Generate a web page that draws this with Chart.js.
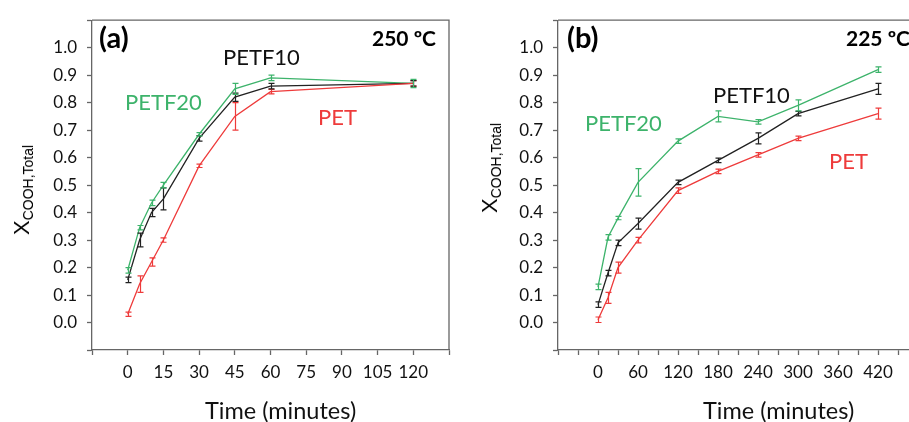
<!DOCTYPE html>
<html>
<head>
<meta charset="utf-8">
<script src="https://cdn.jsdelivr.net/npm/chart.js@4.4.1/dist/chart.umd.min.js"></script>
<style>
  html, body { margin: 0; padding: 0; background: #fff; overflow: hidden; }
  body { width: 909px; height: 422px; position: relative; font-family: Lato, sans-serif; }
  .panel { position: absolute; top: 0; }
  .lbl { position: absolute; white-space: nowrap; line-height: 1; font-size: 22px; }
  .bold { font-weight: bold; color: #000; }
  .xtitle { position: absolute; top: 399px; white-space: nowrap; line-height: 1; font-size: 23.5px; color: #111; }
  .ytitle { position: absolute; white-space: nowrap; font-family: "Liberation Sans", Arial, sans-serif;
            font-size: 22px; color: #000; transform: translate(-50%, -50%) rotate(-90deg); line-height: 1; }
  .ytitle sub { font-size: 14px; vertical-align: -4px; }
</style>
</head>
<body>
<div class="panel" style="left:0px;width:460px;height:422px"><canvas id="chartA" width="460" height="422"></canvas></div>
<div class="panel" style="left:466px;width:470px;height:422px"><canvas id="chartB" width="470" height="422"></canvas></div>

<div class="ytitle" style="left:23px;top:190px">X<sub>COOH,Total</sub></div>
<div class="ytitle" style="left:491px;top:168px">X<sub>COOH,Total</sub></div>
<div class="xtitle" style="left:205px">Time (minutes)</div>
<div class="xtitle" style="left:703px">Time (minutes)</div>

<div class="lbl bold" style="left:99px;top:22px;font-size:29px">(a)</div>
<div class="lbl bold" style="left:372px;top:27px;font-size:21px">250 ºC</div>
<div class="lbl" style="left:223px;top:46px;color:#111">PETF10</div>
<div class="lbl" style="left:125px;top:91px;color:#3db36b">PETF20</div>
<div class="lbl" style="left:318px;top:106px;color:#ee3b3b">PET</div>

<div class="lbl bold" style="left:567px;top:22px;font-size:29px">(b)</div>
<div class="lbl bold" style="left:846px;top:27px;font-size:21px">225 ºC</div>
<div class="lbl" style="left:713px;top:84px;color:#111">PETF10</div>
<div class="lbl" style="left:585px;top:112px;color:#3db36b">PETF20</div>
<div class="lbl" style="left:829px;top:150px;color:#ee3b3b">PET</div>

<script>
// panel (a) - 250 C
const timeA = [0, 5, 10, 15, 30, 45, 60, 120];
const petA = [0.03, 0.14, 0.22, 0.30, 0.57, 0.75, 0.84, 0.87];
const petErrA = [0.008, 0.03, 0.015, 0.008, 0.006, 0.05, 0.008, 0.01];
const petf10A = [0.155, 0.30, 0.40, 0.45, 0.67, 0.82, 0.86, 0.87];
const petf10ErrA = [0.01, 0.025, 0.015, 0.04, 0.01, 0.015, 0.01, 0.01];
const petf20A = [0.19, 0.345, 0.435, 0.50, 0.685, 0.85, 0.89, 0.87];
const petf20ErrA = [0.01, 0.008, 0.01, 0.01, 0.006, 0.02, 0.01, 0.015];

// panel (b) - 225 C
const timeB = [0, 15, 30, 60, 120, 180, 240, 300, 420];
const petB = [0.01, 0.09, 0.20, 0.30, 0.48, 0.55, 0.61, 0.67, 0.76];
const petErrB = [0.01, 0.02, 0.02, 0.01, 0.01, 0.008, 0.008, 0.008, 0.02];
const petf10B = [0.065, 0.18, 0.29, 0.36, 0.51, 0.59, 0.67, 0.76, 0.85];
const petf10ErrB = [0.01, 0.01, 0.01, 0.02, 0.008, 0.008, 0.02, 0.008, 0.02];
const petf20B = [0.13, 0.31, 0.38, 0.51, 0.66, 0.75, 0.73, 0.79, 0.92];
const petf20ErrB = [0.01, 0.01, 0.006, 0.05, 0.008, 0.02, 0.008, 0.02, 0.01];

const GREEN = '#3db36b', RED = '#ee3b3b', BLACK = '#222';
const AXIS = '#666';

function pts(xs, ys) { return xs.map((x, i) => ({ x: x, y: ys[i] })); }

function series(xs, ys, errs, color) {
    return { data: pts(xs, ys), err: errs, borderColor: color, backgroundColor: color,
             borderWidth: 1.3, pointRadius: 0, tension: 0, fill: false };
}

// error bars drawn through the chart scales
const errorBars = {
    id: 'errorBars',
    afterDatasetsDraw(chart) {
        const ctx = chart.ctx, xs = chart.scales.x, ys = chart.scales.y;
        chart.data.datasets.forEach(ds => {
            ctx.save();
            ctx.strokeStyle = ds.borderColor;
            ctx.lineWidth = 1.2;
            ds.data.forEach((p, i) => {
                const e = ds.err[i];
                const px = Math.round(xs.getPixelForValue(p.x)) + 0.5;
                const y1 = ys.getPixelForValue(p.y - e), y2 = ys.getPixelForValue(p.y + e);
                ctx.beginPath();
                ctx.moveTo(px, y1); ctx.lineTo(px, y2);
                ctx.moveTo(px - 3, y1); ctx.lineTo(px + 3, y1);
                ctx.moveTo(px - 3, y2); ctx.lineTo(px + 3, y2);
                ctx.stroke();
            });
            ctx.restore();
        });
    }
};

// top (and right) edges of the plot box; left/bottom come from the axes
const frame = {
    id: 'frame',
    afterDraw(chart, args, opts) {
        const a = chart.chartArea, ctx = chart.ctx;
        ctx.save();
        ctx.strokeStyle = AXIS;
        ctx.lineWidth = 1.3;
        ctx.beginPath();
        ctx.moveTo(a.left, a.top); ctx.lineTo(a.right, a.top);
        if (opts.right) ctx.lineTo(a.right, a.bottom);
        ctx.stroke();
        ctx.restore();
    }
};

function makeChart(id, datasets, xMin, xMax, xStep, xLabel, padRight, rightEdge) {
    return new Chart(document.getElementById(id), {
        type: 'line',
        data: { datasets: datasets },
        options: {
            responsive: false,
            animation: false,
            devicePixelRatio: 1,
            layout: { padding: { left: 0, top: 11, right: padRight, bottom: 0 } },
            plugins: { legend: { display: false }, tooltip: { enabled: false }, frame: { right: rightEdge } },
            scales: {
                x: {
                    type: 'linear', min: xMin, max: xMax,
                    afterFit: s => { s.height = 72; },
                    grid: { drawOnChartArea: false, tickLength: 5, color: AXIS, tickWidth: 1.3 },
                    border: { color: AXIS, width: 1.3 },
                    ticks: { stepSize: xStep, autoSkip: false, maxRotation: 0, padding: 7,
                             color: '#111', font: { family: 'Lato', size: 17 },
                             callback: xLabel }
                },
                y: {
                    min: -0.1, max: 1.1,
                    afterFit: s => { s.width = 92; },
                    grid: { drawOnChartArea: false, tickLength: 5, color: AXIS, tickWidth: 1.3 },
                    border: { color: AXIS, width: 1.3 },
                    ticks: { stepSize: 0.1, padding: 10, color: '#111', font: { family: 'Lato', size: 17 },
                             callback: v => (v < -0.05 || v > 1.05) ? '' : v.toFixed(1) }
                }
            }
        },
        plugins: [errorBars, frame]
    });
}

makeChart('chartA', [
    series(timeA, petA, petErrA, RED),
    series(timeA, petf10A, petf10ErrA, BLACK),
    series(timeA, petf20A, petf20ErrA, GREEN)
], -15, 135, 15, v => (v >= 0 && v <= 120) ? String(v) : '', 11, true);

makeChart('chartB', [
    series(timeB, petB, petErrB, RED),
    series(timeB, petf10B, petf10ErrB, BLACK),
    series(timeB, petf20B, petf20ErrB, GREEN)
], -60, 480, 30, v => (v >= 0 && v <= 420 && v % 60 === 0) ? String(v) : '', 18, false);
</script>
</body>
</html>
